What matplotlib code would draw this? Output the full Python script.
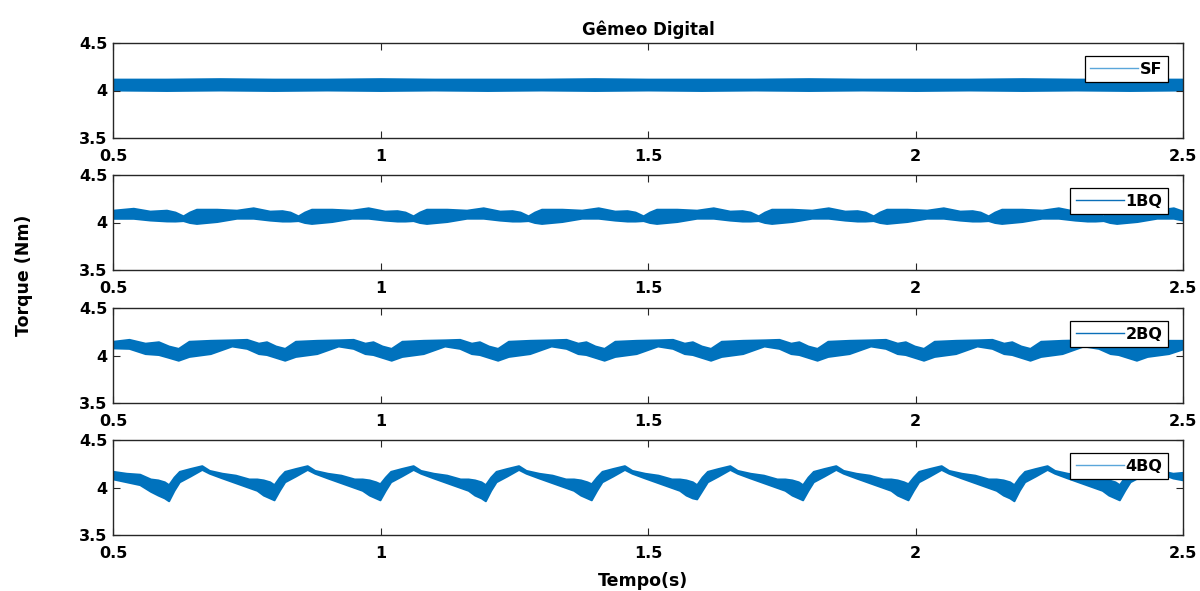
import matplotlib
matplotlib.use("Agg")
import matplotlib.pyplot as plt
from matplotlib.lines import Line2D

plt.rcParams['font.family'] = ['DejaVu Sans']
plt.rcParams['font.weight'] = 'bold'

# ---------------- data (envelopes of the torque band) ----------------
series_names = ["SF", "1BQ", "2BQ", "4BQ"]
x_ticks = [0.5, 1, 1.5, 2, 2.5]
x_tick_labels = ["0.5", "1", "1.5", "2", "2.5"]
y_ticks = [3.5, 4.0, 4.5]
y_tick_labels = ["3.5", "4", "4.5"]

# SF
sf_t = [0.5, 0.6, 0.7, 0.8, 0.9, 1.0, 1.1, 1.2, 1.3, 1.4, 1.5, 1.6, 1.7, 1.8, 1.9, 2.0,
        2.1, 2.2, 2.3, 2.4, 2.5]
sf_hi = [4.12, 4.12, 4.125, 4.12, 4.12, 4.125, 4.12, 4.12, 4.12, 4.125, 4.12, 4.12, 4.12,
         4.125, 4.12, 4.12, 4.12, 4.125, 4.12, 4.12, 4.12]
sf_lo = [4.005, 4.0, 4.005, 4.0, 4.005, 4.0, 4.005, 4.0, 4.005, 4.0, 4.005, 4.0, 4.005,
         4.0, 4.005, 4.0, 4.005, 4.0, 4.005, 4.0, 4.005]

# 1BQ
bq1_t = [0.500, 0.538, 0.569, 0.600, 0.616,
         0.631, 0.643, 0.656, 0.694, 0.731, 0.762, 0.793, 0.816, 0.831,
         0.846, 0.858, 0.871, 0.909, 0.946, 0.977, 1.008, 1.031, 1.046,
         1.061, 1.073, 1.086, 1.124, 1.161, 1.192, 1.223, 1.246, 1.261,
         1.276, 1.288, 1.301, 1.339, 1.376, 1.407, 1.438, 1.461, 1.476,
         1.491, 1.503, 1.516, 1.554, 1.591, 1.622, 1.653, 1.676, 1.691,
         1.706, 1.718, 1.731, 1.769, 1.806, 1.837, 1.868, 1.891, 1.906,
         1.921, 1.933, 1.946, 1.984, 2.021, 2.052, 2.083, 2.106, 2.121,
         2.136, 2.148, 2.161, 2.199, 2.236, 2.267, 2.298, 2.321, 2.336,
         2.351, 2.363, 2.376, 2.414, 2.451, 2.482, 2.500]
bq1_hi = [4.13, 4.15, 4.12, 4.13, 4.11,
          4.07, 4.11, 4.14, 4.14, 4.13, 4.155, 4.12, 4.125, 4.11,
          4.07, 4.11, 4.14, 4.14, 4.13, 4.155, 4.12, 4.125, 4.11,
          4.07, 4.11, 4.14, 4.14, 4.13, 4.155, 4.12, 4.125, 4.11,
          4.07, 4.11, 4.14, 4.14, 4.13, 4.155, 4.12, 4.125, 4.11,
          4.07, 4.11, 4.14, 4.14, 4.13, 4.155, 4.12, 4.125, 4.11,
          4.07, 4.11, 4.14, 4.14, 4.13, 4.155, 4.12, 4.125, 4.11,
          4.07, 4.11, 4.14, 4.14, 4.13, 4.155, 4.12, 4.125, 4.11,
          4.07, 4.11, 4.14, 4.14, 4.13, 4.155, 4.12, 4.125, 4.11,
          4.07, 4.11, 4.14, 4.14, 4.13, 4.155, 4.12]
bq1_lo = [4.044, 4.044, 4.026, 4.016, 4.015,
          4.02, 4.0, 3.99, 4.01, 4.045, 4.045, 4.025, 4.015, 4.015,
          4.02, 4.0, 3.99, 4.01, 4.045, 4.045, 4.025, 4.015, 4.015,
          4.02, 4.0, 3.99, 4.01, 4.045, 4.045, 4.025, 4.015, 4.015,
          4.02, 4.0, 3.99, 4.01, 4.045, 4.045, 4.025, 4.015, 4.015,
          4.02, 4.0, 3.99, 4.01, 4.045, 4.045, 4.025, 4.015, 4.015,
          4.02, 4.0, 3.99, 4.01, 4.045, 4.045, 4.025, 4.015, 4.015,
          4.02, 4.0, 3.99, 4.01, 4.045, 4.045, 4.025, 4.015, 4.015,
          4.02, 4.0, 3.99, 4.01, 4.045, 4.045, 4.025, 4.015, 4.015,
          4.02, 4.0, 3.99, 4.01, 4.045, 4.045, 4.025]

# 2BQ
bq2_t = [0.500, 0.530, 0.560, 0.585, 0.604,
         0.622, 0.642, 0.682, 0.722, 0.750, 0.772, 0.787, 0.804,
         0.821, 0.841, 0.881, 0.921, 0.949, 0.971, 0.986, 1.003,
         1.020, 1.040, 1.080, 1.120, 1.148, 1.170, 1.185, 1.202,
         1.219, 1.239, 1.279, 1.319, 1.347, 1.369, 1.384, 1.401,
         1.418, 1.438, 1.478, 1.518, 1.546, 1.568, 1.583, 1.600,
         1.617, 1.637, 1.677, 1.717, 1.745, 1.767, 1.782, 1.799,
         1.816, 1.836, 1.876, 1.916, 1.944, 1.966, 1.981, 1.998,
         2.015, 2.035, 2.075, 2.115, 2.143, 2.165, 2.180, 2.197,
         2.214, 2.234, 2.274, 2.314, 2.342, 2.364, 2.379, 2.396,
         2.413, 2.433, 2.473, 2.500]
bq2_hi = [4.15, 4.17, 4.13, 4.145, 4.10,
          4.075, 4.15, 4.16, 4.165, 4.17, 4.13, 4.145, 4.10,
          4.075, 4.15, 4.16, 4.165, 4.17, 4.13, 4.145, 4.10,
          4.075, 4.15, 4.16, 4.165, 4.17, 4.13, 4.145, 4.10,
          4.075, 4.15, 4.16, 4.165, 4.17, 4.13, 4.145, 4.10,
          4.075, 4.15, 4.16, 4.165, 4.17, 4.13, 4.145, 4.10,
          4.075, 4.15, 4.16, 4.165, 4.17, 4.13, 4.145, 4.10,
          4.075, 4.15, 4.16, 4.165, 4.17, 4.13, 4.145, 4.10,
          4.075, 4.15, 4.16, 4.165, 4.17, 4.13, 4.145, 4.10,
          4.075, 4.15, 4.16, 4.165, 4.17, 4.13, 4.145, 4.10,
          4.075, 4.15, 4.16, 4.16]
bq2_lo = [4.08, 4.075, 4.02, 4.01, 3.98,
          3.95, 3.99, 4.02, 4.10, 4.075, 4.02, 4.01, 3.98,
          3.95, 3.99, 4.02, 4.10, 4.075, 4.02, 4.01, 3.98,
          3.95, 3.99, 4.02, 4.10, 4.075, 4.02, 4.01, 3.98,
          3.95, 3.99, 4.02, 4.10, 4.075, 4.02, 4.01, 3.98,
          3.95, 3.99, 4.02, 4.10, 4.075, 4.02, 4.01, 3.98,
          3.95, 3.99, 4.02, 4.10, 4.075, 4.02, 4.01, 3.98,
          3.95, 3.99, 4.02, 4.10, 4.075, 4.02, 4.01, 3.98,
          3.95, 3.99, 4.02, 4.10, 4.075, 4.02, 4.01, 3.98,
          3.95, 3.99, 4.02, 4.10, 4.075, 4.02, 4.01, 3.98,
          3.95, 3.99, 4.02, 4.07]

# 4BQ
bq4_t = [0.500, 0.525, 0.550, 0.570,
         0.584, 0.596, 0.604, 0.614, 0.624, 0.644, 0.666, 0.680, 0.704, 0.729, 0.754, 0.769,
         0.781, 0.793, 0.801, 0.811, 0.821, 0.841, 0.863, 0.877, 0.901, 0.926, 0.951, 0.966,
         0.979, 0.991, 0.999, 1.009, 1.019, 1.039, 1.061, 1.075, 1.099, 1.124, 1.149, 1.164,
         1.176, 1.188, 1.196, 1.206, 1.216, 1.236, 1.258, 1.272, 1.296, 1.321, 1.346, 1.361,
         1.374, 1.386, 1.394, 1.404, 1.414, 1.434, 1.456, 1.470, 1.494, 1.519, 1.544, 1.559,
         1.571, 1.583, 1.591, 1.601, 1.611, 1.631, 1.653, 1.667, 1.691, 1.716, 1.741, 1.756,
         1.769, 1.781, 1.789, 1.799, 1.809, 1.829, 1.851, 1.865, 1.889, 1.914, 1.939, 1.954,
         1.966, 1.978, 1.986, 1.996, 2.006, 2.026, 2.048, 2.062, 2.086, 2.111, 2.136, 2.151,
         2.164, 2.176, 2.184, 2.194, 2.204, 2.224, 2.246, 2.260, 2.284, 2.309, 2.334, 2.349,
         2.361, 2.373, 2.381, 2.391, 2.401, 2.421, 2.443, 2.457, 2.481, 2.500]
bq4_hi = [4.17, 4.15, 4.14, 4.09,
          4.08, 4.06, 4.03, 4.11, 4.17, 4.20, 4.23, 4.18, 4.15, 4.13, 4.09, 4.09,
          4.08, 4.06, 4.03, 4.11, 4.17, 4.20, 4.23, 4.18, 4.15, 4.13, 4.09, 4.09,
          4.08, 4.06, 4.04, 4.11, 4.17, 4.20, 4.23, 4.18, 4.15, 4.13, 4.09, 4.09,
          4.08, 4.06, 4.03, 4.11, 4.17, 4.20, 4.23, 4.18, 4.15, 4.13, 4.09, 4.09,
          4.08, 4.06, 4.04, 4.11, 4.17, 4.20, 4.23, 4.18, 4.15, 4.13, 4.09, 4.09,
          4.08, 4.06, 4.03, 4.11, 4.17, 4.20, 4.23, 4.18, 4.15, 4.13, 4.09, 4.09,
          4.08, 4.06, 4.03, 4.11, 4.17, 4.20, 4.23, 4.18, 4.15, 4.13, 4.09, 4.09,
          4.08, 4.06, 4.04, 4.11, 4.17, 4.20, 4.23, 4.18, 4.15, 4.13, 4.09, 4.09,
          4.08, 4.06, 4.03, 4.11, 4.17, 4.20, 4.23, 4.18, 4.15, 4.13, 4.09, 4.09,
          4.08, 4.06, 4.03, 4.11, 4.17, 4.20, 4.23, 4.18, 4.15, 4.16]
bq4_lo = [4.09, 4.06, 4.03, 3.96,
          3.92, 3.89, 3.86, 3.97, 4.06, 4.12, 4.19, 4.15, 4.10, 4.05, 4.00, 3.97,
          3.92, 3.89, 3.87, 3.97, 4.06, 4.12, 4.19, 4.15, 4.10, 4.05, 4.00, 3.97,
          3.92, 3.89, 3.87, 3.97, 4.06, 4.12, 4.19, 4.15, 4.10, 4.05, 4.00, 3.97,
          3.92, 3.89, 3.86, 3.97, 4.06, 4.12, 4.19, 4.15, 4.10, 4.05, 4.00, 3.97,
          3.92, 3.89, 3.87, 3.97, 4.06, 4.12, 4.19, 4.15, 4.10, 4.05, 4.00, 3.97,
          3.92, 3.89, 3.88, 3.97, 4.06, 4.12, 4.19, 4.15, 4.10, 4.05, 4.00, 3.97,
          3.92, 3.89, 3.87, 3.97, 4.06, 4.12, 4.19, 4.15, 4.10, 4.05, 4.00, 3.97,
          3.92, 3.89, 3.87, 3.97, 4.06, 4.12, 4.19, 4.15, 4.10, 4.05, 4.00, 3.97,
          3.92, 3.89, 3.86, 3.97, 4.06, 4.12, 4.19, 4.15, 4.10, 4.05, 4.00, 3.97,
          3.92, 3.89, 3.87, 3.97, 4.06, 4.12, 4.19, 4.15, 4.10, 4.08]

# ---------------- figure ----------------
W, H = 1200, 591
fig = plt.figure(figsize=(W / 100, H / 100), dpi=100)

band_color = '#0072BD'
legend_colors = ['#5AA6DA', '#0A6FB8', '#0A6FB8', '#5AA6DA']
data = [(sf_t, sf_hi, sf_lo), (bq1_t, bq1_hi, bq1_lo),
        (bq2_t, bq2_hi, bq2_lo), (bq4_t, bq4_hi, bq4_lo)]

ax_left, ax_right = 113, 1183
ax_tops = [43, 175, 308, 440]
ax_h = 95
fs = 11.5
spine_c = '#262626'

axes = []
for i, (t, hi, lo) in enumerate(data):
    ax = fig.add_axes([ax_left / W, 1 - (ax_tops[i] + ax_h) / H,
                       (ax_right - ax_left) / W, ax_h / H])
    ax.fill_between(t, lo, hi, color=band_color, linewidth=1.4, edgecolor=band_color)
    ax.set_xlim(0.5, 2.5)
    ax.set_ylim(3.5, 4.5)
    ax.set_xticks(x_ticks)
    ax.set_xticklabels(x_tick_labels)
    ax.set_yticks(y_ticks)
    ax.set_yticklabels(y_tick_labels)
    ax.tick_params(direction='in', top=True, right=True, length=5, width=0.8,
                   color=spine_c, labelsize=fs, labelcolor='black')
    ax.tick_params(axis='x', pad=8)
    ax.tick_params(axis='y', pad=4)
    for lab in ax.get_xticklabels() + ax.get_yticklabels():
        lab.set_fontweight('bold')
    for sp in ax.spines.values():
        sp.set_color(spine_c)
        sp.set_linewidth(1.0)
    handle = Line2D([], [], color=legend_colors[i], linewidth=1.0)
    leg = ax.legend([handle], [series_names[i]], loc='upper right',
                    bbox_to_anchor=(1 - 15 / (ax_right - ax_left), 1 - 13 / ax_h),
                    borderaxespad=0, fancybox=False, framealpha=1,
                    edgecolor='black', handlelength=3.0, handletextpad=0.1,
                    borderpad=0.35, prop={'size': fs, 'weight': 'bold'})
    leg.get_frame().set_linewidth(0.9)
    axes.append(ax)

axes[0].set_title('Gêmeo Digital', fontsize=fs + 0.5, fontweight='bold', pad=6)
fig.text(643 / W, 1 - 581 / H, 'Tempo(s)', ha='center', va='center',
         fontsize=fs + 1, fontweight='bold')
fig.text(24 / W, 1 - 275 / H, 'Torque (Nm)', ha='center', va='center',
         rotation=90, fontsize=fs + 1, fontweight='bold')

fig.savefig('out.png', dpi=100)
